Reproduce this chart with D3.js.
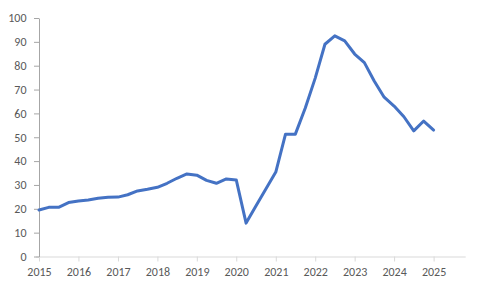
<!DOCTYPE html>
<html><head><meta charset="utf-8">
<script src="https://cdn.jsdelivr.net/npm/d3@7"></script>
<style>
body{margin:0;background:#fff;}
svg text{font-family:Calibri,Carlito,"Liberation Sans",Arial,sans-serif;font-size:12px;fill:#595959;}
</style></head>
<body><svg id="c" width="480" height="288"></svg>
<script>
// Quarterly observations, 2015 Q1 .. 2025 Q1
const quarters = [
 "2015-01-01","2015-04-01","2015-07-01","2015-10-01",
 "2016-01-01","2016-04-01","2016-07-01","2016-10-01",
 "2017-01-01","2017-04-01","2017-07-01","2017-10-01",
 "2018-01-01","2018-04-01","2018-07-01","2018-10-01",
 "2019-01-01","2019-04-01","2019-07-01","2019-10-01",
 "2020-01-01","2020-04-01","2020-07-01","2020-10-01",
 "2021-01-01","2021-04-01","2021-07-01","2021-10-01",
 "2022-01-01","2022-04-01","2022-07-01","2022-10-01",
 "2023-01-01","2023-04-01","2023-07-01","2023-10-01",
 "2024-01-01","2024-04-01","2024-07-01","2024-10-01",
 "2025-01-01"
];
const values = [
 19.5,20.6,20.6,22.6,
 23.3,23.7,24.4,24.8,
 24.9,25.9,27.5,28.2,
 29.0,30.7,32.8,34.6,
 34.1,31.9,30.7,32.5,
 32.1,14.0,21.2,28.3,
 35.4,51.3,51.3,62.3,
 74.8,89.0,92.5,90.4,
 84.9,81.3,73.6,66.8,
 63.1,58.6,52.7,56.8,
 53.0
];
const yTicks = [0,10,20,30,40,50,60,70,80,90,100];
const xTickYears = [2015,2016,2017,2018,2019,2020,2021,2022,2023,2024,2025];

const svg = d3.select("#c");
const parse = d3.timeParse("%Y-%m-%d");
const data = quarters.map((q,i)=>({d:parse(q), v:values[i]}));

const x = d3.scaleTime()
  .domain([new Date(2015,0,1), new Date(2025,9,25)])
  .range([39, 465.7]);
const y = d3.scaleLinear().domain([0,100]).range([256.5,18]);

// x axis
const xAxis = d3.axisBottom(x)
  .tickValues(xTickYears.map(yr=>new Date(yr,0,1)))
  .tickFormat(d3.timeFormat("%Y"))
  .tickSize(5).tickSizeOuter(0).tickPadding(4);
const gx = svg.append("g").attr("transform","translate(0,256.5)").call(xAxis);
gx.select(".domain").attr("stroke","#d9d9d9").attr("d","M36,0.5H465.7");
gx.selectAll(".tick line").attr("stroke","#d9d9d9");
gx.selectAll(".tick text").attr("dy","0.71em").attr("y",10.5);

// y axis
const yAxis = d3.axisLeft(y).tickValues(yTicks).tickSize(5).tickSizeOuter(0).tickPadding(8);
const gy = svg.append("g").attr("transform","translate(39,0)").call(yAxis);
gy.select(".domain").attr("stroke","#a6a6a6");
gy.selectAll(".tick line").attr("stroke","#a6a6a6");
gy.selectAll("text").attr("x",-12.5);

// line
const line = d3.line().x(d=>x(d.d)).y(d=>y(d.v));
svg.append("path").datum(data)
  .attr("fill","none").attr("stroke","#4472C4").attr("stroke-width",3)
  .attr("stroke-linejoin","round").attr("stroke-linecap","round")
  .attr("d",line);
</script></body></html>
